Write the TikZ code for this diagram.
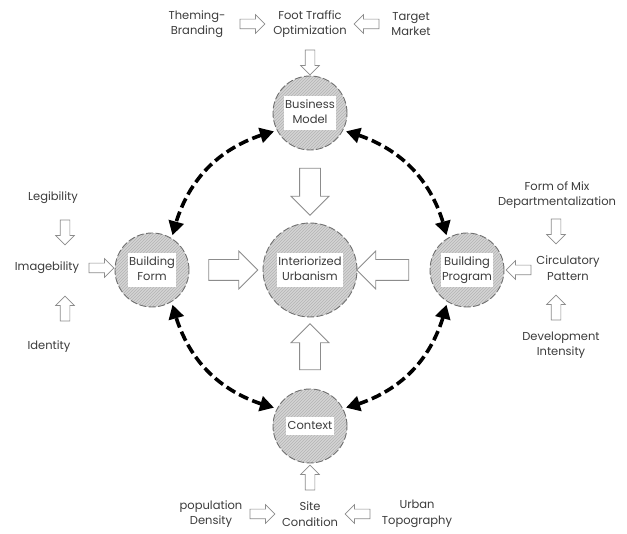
\documentclass[tikz,border=0pt]{standalone}
\usepackage{fontspec}
\setmainfont{Poppins}
\usetikzlibrary{arrows.meta,shapes.arrows,patterns,bending}
\definecolor{txt}{HTML}{3C3C3C}
\definecolor{arr}{HTML}{8C8C8C}
\definecolor{hubfill}{HTML}{D4D4D4}
\definecolor{hubhatch}{HTML}{B4B4B4}
\definecolor{hubline}{HTML}{707070}
\newcommand{\wbox}[1]{{\setlength{\fboxsep}{1.5pt}\colorbox{white}{\begin{tabular}{@{}c@{}}#1\end{tabular}}}}
\begin{document}
\begin{tikzpicture}[x=1pt,y=-1pt,
  font=\fontsize{11.5}{15.5}\selectfont, text=txt,
  hub/.style={circle, minimum size=74pt, inner sep=0pt, draw=hubline,
    line width=0.9pt, dash pattern=on 7pt off 2.5pt,
    preaction={fill=hubfill}, pattern=north east lines, pattern color=hubhatch},
  lab/.style={align=center, inner sep=0pt},
  sarrow/.style={single arrow, draw=arr, fill=white, line width=0.7pt,
    minimum height=25pt, inner xsep=0pt, inner ysep=4.5pt, single arrow head extend=4.5pt},
  barrow/.style={single arrow, draw=arr, fill=white, line width=0.8pt,
    minimum height=48pt, inner xsep=0pt, inner ysep=10pt, single arrow head extend=8.5pt},
  link/.style={line width=3.6pt, dash pattern=on 10pt off 4.5pt,
    {Triangle[length=14pt,width=15pt]}-{Triangle[length=14pt,width=15pt]},
    shorten <=3pt, shorten >=3pt}
]
\useasboundingbox[fill=white] (0,0) rectangle (627,534);

% hubs
\node[hub] (bm) at (310,113) {\wbox{Business\\Model}};
\node[hub, minimum size=94pt] (iu) at (310,270) {\wbox{Interiorized\\Urbanism}};
\node[hub] (bf) at (152,270) {\wbox{Building\\Form}};
\node[hub] (bp) at (467,270) {\wbox{Building\\Program}};
\node[hub] (ctx) at (310,426) {\wbox{Context}};

% dashed links
\draw[link] (bm.208) to[bend right=32] (bf.58);
\draw[link] (bm.332) to[bend left=32] (bp.122);
\draw[link] (ctx.152) to[bend left=32] (bf.302);
\draw[link] (ctx.28) to[bend right=32] (bp.238);

% big arrows
\node[barrow, minimum height=47pt, rotate=-90] (b1) at (310,186.5) {};
\node[barrow, minimum height=49pt] (b2) at (228,270) {};
\node[barrow, minimum height=52pt, rotate=180] (b3) at (388,270) {};
\node[barrow, minimum height=46pt, rotate=90] (b4) at (310,352) {};

% top group
\node[lab] (ft) at (310,24) {Foot Traffic\\Optimization};
\node[lab] (tb) at (197,24) {Theming-\\Branding};
\node[lab] (tm) at (411,24) {Target\\Market};
\node[sarrow] (a1) at (250,24) {};
\node[sarrow, rotate=180] (a2) at (369,24) {};
\node[sarrow, rotate=-90] (a3) at (310,60) {};

% left group
\node[lab] (leg) at (53,198) {Legibility};
\node[lab] (img) at (47,268) {Imagebility};
\node[lab] (idn) at (49,347) {Identity};
\node[sarrow, rotate=-90] (a4) at (65,230) {};
\node[sarrow] (a5) at (99,268) {};
\node[sarrow, rotate=90] (a6) at (65,311) {};

% right group
\node[lab] (fm) at (557,195) {Form of Mix\\Departmentalization};
\node[lab] (cp) at (568,268) {Circulatory\\Pattern};
\node[lab] (di) at (561,345) {Development\\Intensity};
\node[sarrow, rotate=-90] (a7) at (556,229) {};
\node[sarrow, rotate=180] (a8) at (521,270) {};
\node[sarrow, rotate=90] (a9) at (556,310) {};

% bottom group
\node[lab] (pd) at (211,514) {population\\Density};
\node[lab] (sc) at (310,514) {Site\\Condition};
\node[lab] (ut) at (417,514) {Urban\\Topography};
\node[sarrow] (a10) at (260,514) {};
\node[sarrow, rotate=180] (a11) at (360,514) {};
\node[sarrow, rotate=90] (a12) at (310,480) {};
\end{tikzpicture}
\end{document}
